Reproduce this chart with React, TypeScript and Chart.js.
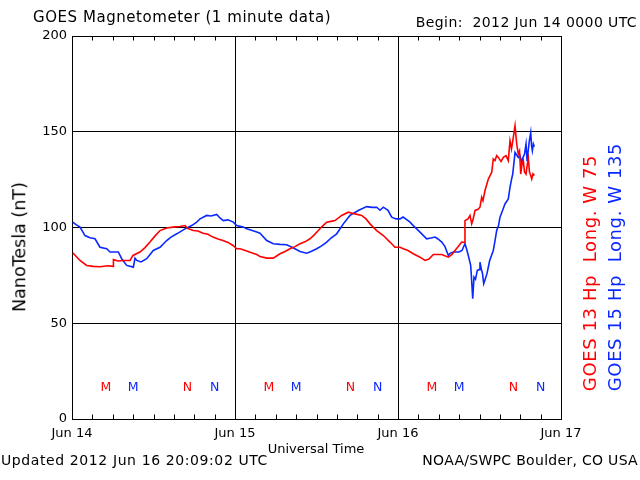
import React, { useEffect, useRef } from "react";
import { Chart, registerables } from "chart.js";

Chart.register(...registerables);

// ---- Data (hours since 2012 Jun 14 00:00 UTC, nT) ----
const dayLabels = ["Jun 14", "Jun 15", "Jun 16", "Jun 17"];
const dayTickHours = [0, 24, 48, 72];
const minorTickHours = [3, 6, 9, 12, 15, 18, 21, 27, 30, 33, 36, 39, 42, 45, 51, 54, 57, 60, 63, 66, 69];
const yTickValues = [0, 50, 100, 150, 200];

const redHours = [
  0.1, 1.18, 2.16, 3.09, 4.12, 5.3, 6.05, 6.1, 6.77, 7.5, 8.54, 8.98, 10.0, 10.75, 11.48, 12.2, 12.96, 13.94,
  14.87, 15.9, 16.64, 17.08, 17.86, 18.55, 19.29, 20.02, 20.76, 21.5, 22.23, 22.97, 23.7, 24.25, 24.74, 25.72,
  26.65, 27.2, 27.68, 28.67, 29.64, 30.63, 31.36, 32.1, 32.83, 33.57, 34.3, 35.04, 35.63, 36.27, 36.81, 37.5,
  38.14, 38.72, 39.71, 40.68, 41.67, 42.65, 43.29, 43.88, 44.86, 45.84, 46.82, 47.56, 48.3, 48.78, 49.47,
  50.25, 51.24, 51.98, 52.56, 53.2, 54.44, 55.41, 55.95, 56.39, 56.84, 57.38, 57.79, 57.86, 58.31, 58.6,
  58.85, 59.04, 59.34, 59.78, 60.07, 60.32, 60.51, 60.81, 61.3, 61.8, 62.03, 62.28, 62.53, 62.77, 63.17,
  63.51, 63.9, 64.24, 64.49, 64.71, 64.98, 65.23, 65.48, 65.71, 65.89, 66.07, 66.26, 66.45, 66.63, 66.85,
  67.0, 67.19, 67.36, 67.51, 67.69, 67.88, 68.07,
];
const redValues = [
  86.8, 82.8, 80.2, 79.7, 79.5, 80.0, 79.7, 83.2, 82.5, 82.8, 82.8, 85.4, 87.2, 89.5, 92.4, 95.5, 98.4, 99.7,
  100.2, 100.5, 101.0, 99.5, 98.4, 98.2, 97.0, 96.5, 95.0, 94.0, 93.2, 92.2, 90.6, 88.9, 88.9, 87.7,
  86.6, 85.9, 84.9, 84.0, 84.0, 86.3, 87.5, 88.9, 90.0, 91.5, 92.5, 94.1, 96.0, 98.4, 100.5, 102.8,
  103.2, 103.6, 106.3, 108.0, 107.1, 106.3, 104.5, 101.9, 98.4, 95.8, 92.4, 89.7, 89.7, 88.9, 88.0,
  86.3, 84.5, 82.8, 83.5, 85.9, 85.9, 84.5, 86.0, 88.0, 90.0, 92.4, 92.2, 103.6, 104.5, 106.3,
  101.9, 104.0, 108.9, 109.5, 110.6, 115.8, 114.0, 119.3, 125.3, 128.8, 135.8, 135.0, 137.6, 136.6, 134.5,
  136.6, 137.5, 134.9, 145.3, 141.0, 147.0, 153.1, 143.6, 138.4, 140.0, 127.9, 133.0, 134.9, 129.0, 127.9,
  132.0, 135.8, 129.0, 127.5, 125.3, 128.0, 127.1,
];

const blueHours = [
  0.1, 0.59, 1.18, 1.91, 2.65, 3.39, 4.12, 5.11, 5.6, 6.82, 7.32, 8.05, 9.03, 9.28, 9.53, 10.16, 11.0, 11.97,
  12.96, 13.94, 14.58, 15.42, 16.64, 17.62, 18.26, 18.85, 19.83, 20.47, 21.31, 21.79, 22.28, 22.97, 23.75,
  24.25, 25.22, 25.72, 26.21, 27.2, 27.68, 28.67, 29.64, 30.63, 31.61, 32.83, 33.57, 34.56, 35.19, 36.03,
  36.81, 37.5, 38.14, 38.97, 39.95, 40.93, 42.15, 43.39, 44.17, 44.86, 45.35, 45.84, 46.53, 47.07, 47.71,
  48.3, 48.74, 49.03, 49.77, 50.25, 50.75, 51.24, 52.22, 52.86, 53.45, 53.89, 54.44, 54.92, 55.41, 55.66,
  56.14, 56.98, 57.42, 57.86, 58.08, 58.35, 58.7, 58.85, 59.0, 59.19, 59.41, 59.68, 59.93, 60.07, 60.29,
  60.44, 60.62, 60.84, 61.1, 61.28, 61.5, 62.03, 62.28, 62.53, 62.8, 63.02, 63.46, 63.75, 64.24, 64.49,
  64.71, 64.89, 65.08, 65.23, 65.45, 65.71, 65.96, 66.21, 66.4, 66.63, 66.85, 67.0, 67.14, 67.34, 67.54,
  67.66, 67.78, 67.93, 68.07,
];
const blueValues = [
  102.8, 101.5, 100.2, 95.8, 94.6, 94.1, 89.7, 88.9, 87.2, 87.2, 83.7, 80.2, 79.3, 84.0, 82.8, 82.0, 83.7, 88.0,
  89.7, 93.2, 95.0, 96.7, 99.3, 101.0, 102.5, 104.5, 106.3, 106.0, 106.8, 105.0, 103.6, 104.0, 102.8,
  101.0, 100.2, 99.3, 98.8, 97.6, 97.0, 93.2, 91.5, 91.2, 91.0, 88.9, 87.5, 86.6, 87.5, 88.9,
  90.5, 92.4, 94.5, 96.7, 101.9, 106.3, 108.9, 110.9, 110.5, 110.6, 109.0, 110.6, 109.0, 105.4, 104.5,
  104.5, 105.5, 104.8, 102.8, 101.0, 99.3, 97.6, 94.1, 94.5, 95.0, 94.0, 92.4, 90.0, 85.4, 86.5,
  87.2, 87.2, 88.0, 91.5, 89.0, 85.4, 80.2, 72.0, 62.8, 74.1, 73.0, 77.6, 78.0, 81.9, 78.0,
  76.0, 70.7, 73.0, 75.9, 79.0, 82.8, 88.0, 93.0, 98.4, 101.0, 105.4, 109.5, 112.3, 114.9, 121.0,
  125.0, 127.9, 134.0, 139.2, 138.0, 136.6, 137.5, 134.0, 136.5, 138.4, 143.6, 135.0, 139.2, 145.3, 149.6,
  143.0, 140.1, 143.6, 142.2,
];

// Local midnight (M) / noon (N) markers
const markValue = 17;
const redMarkHours = [5, 17, 29, 41, 53, 65];
const redMarkLetters = ["M", "N", "M", "N", "M", "N"];
const blueMarkHours = [9, 21, 33, 45, 57, 69];
const blueMarkLetters = ["M", "N", "M", "N", "M", "N"];

const RED = "#ff0000";
const BLUE = "#0a28ff";
const FONT = '"DejaVu Sans", sans-serif';

const overlayPlugin = {
  id: "goesOverlay",
  afterDatasetsDraw(chart: any) {
    const { ctx, chartArea } = chart;
    const xs = chart.scales.x;
    const ys = chart.scales.y;
    ctx.save();
    ctx.strokeStyle = "#000";
    ctx.lineWidth = 1;
    ctx.beginPath();
    for (const h of minorTickHours) {
      const px = Math.round(xs.getPixelForValue(h)) + 0.5;
      ctx.moveTo(px, chartArea.top);
      ctx.lineTo(px, chartArea.top + 4.5);
      ctx.moveTo(px, chartArea.bottom);
      ctx.lineTo(px, chartArea.bottom - 4.5);
    }
    ctx.stroke();
    const size = 12.5;
    ctx.font = `${size}px ${FONT}`;
    ctx.textAlign = "center";
    ctx.textBaseline = "alphabetic";
    const drawMarks = (hours: number[], letters: string[], color: string) => {
      ctx.fillStyle = color;
      hours.forEach((h, i) => {
        const px = xs.getPixelForValue(h);
        const py = ys.getPixelForValue(markValue);
        ctx.fillText(letters[i], px, py + 0.365 * size);
      });
    };
    drawMarks(redMarkHours, redMarkLetters, RED);
    drawMarks(blueMarkHours, blueMarkLetters, BLUE);
    ctx.restore();
  },
};

type TextProps = {
  text: string;
  x: number;
  baseline: number;
  size: number;
  align?: "left" | "right" | "center";
  color?: string;
  ls?: number;
};

function Label({ text, x, baseline, size, align = "left", color = "#000", ls = 0 }: TextProps) {
  const top = baseline - 0.846 * size;
  const style: React.CSSProperties = {
    position: "absolute",
    top,
    fontFamily: FONT,
    fontSize: size,
    lineHeight: `${size}px`,
    whiteSpace: "pre",
    color,
    letterSpacing: ls,
  };
  if (align === "left") style.left = x;
  else if (align === "right") style.right = 640 - x;
  else {
    style.left = x;
    style.transform = "translateX(-50%)";
  }
  return <div style={style}>{text}</div>;
}

function VLabel({ text, cx, cy, size, color = "#000", ls = 0 }: { text: string; cx: number; cy: number; size: number; color?: string; ls?: number }) {
  return (
    <div
      style={{
        position: "absolute",
        left: cx,
        top: cy,
        transform: "translate(-50%, -50%) rotate(-90deg)",
        fontFamily: FONT,
        fontSize: size,
        lineHeight: `${size}px`,
        whiteSpace: "pre",
        color,
        letterSpacing: ls,
      }}
    >
      {text}
    </div>
  );
}

export default function App() {
  const canvasRef = useRef<HTMLCanvasElement | null>(null);

  useEffect(() => {
    if (!canvasRef.current) return;
    const chart = new Chart(canvasRef.current, {
      type: "line",
      data: {
        datasets: [
          {
            label: "GOES 13 Hp",
            data: redHours.map((h, i) => ({ x: h, y: redValues[i] })),
            borderColor: RED,
            borderWidth: 1.6,
            pointRadius: 0,
            tension: 0,
            fill: false,
          },
          {
            label: "GOES 15 Hp",
            data: blueHours.map((h, i) => ({ x: h, y: blueValues[i] })),
            borderColor: BLUE,
            borderWidth: 1.6,
            pointRadius: 0,
            tension: 0,
            fill: false,
          },
        ],
      },
      options: {
        animation: false,
        responsive: false,
        devicePixelRatio: 1,
        events: [],
        layout: { padding: { left: 0, right: 79, top: 36, bottom: 0 } },
        plugins: {
          legend: { display: false },
          tooltip: { enabled: false },
          title: { display: false },
        },
        scales: {
          x: {
            type: "linear",
            min: 0,
            max: 72,
            afterFit: (scale: any) => {
              scale.height = 61;
            },
            afterBuildTicks: (scale: any) => {
              scale.ticks = dayTickHours.map((v) => ({ value: v }));
            },
            ticks: {
              autoSkip: false,
              maxRotation: 0,
              padding: 7,
              color: "#000",
              font: { family: FONT, size: 13 },
              callback: (v: any) => {
                const i = dayTickHours.indexOf(Number(v));
                return i >= 0 ? dayLabels[i] : "";
              },
            },
            grid: { color: "#000", lineWidth: 1, drawTicks: false },
            border: { display: true, color: "#000", width: 1 },
          },
          y: {
            type: "linear",
            min: 0,
            max: 200,
            afterFit: (scale: any) => {
              scale.width = 72;
            },
            afterBuildTicks: (scale: any) => {
              scale.ticks = yTickValues.map((v) => ({ value: v }));
            },
            ticks: {
              padding: 5,
              color: "#000",
              font: { family: FONT, size: 13 },
            },
            grid: { color: "#000", lineWidth: 1, drawTicks: false },
            border: { display: true, color: "#000", width: 1 },
          },
        },
      },
      plugins: [overlayPlugin],
    } as any);
    return () => chart.destroy();
  }, []);

  return (
    <div style={{ position: "absolute", left: 0, top: 0, width: 640, height: 480, background: "#fff", overflow: "hidden" }}>
      <canvas ref={canvasRef} width={640} height={480} style={{ position: "absolute", left: 0, top: 0, width: 640, height: 480 }} />
      <Label text="GOES Magnetometer (1 minute data)" x={33} baseline={23} size={15} ls={0.55} />
      <Label text="Begin:  2012 Jun 14 0000 UTC" x={637} baseline={27} size={14} ls={0.4} align="right" />
      <Label text="Universal Time" x={316} baseline={453} size={13} align="center" />
      <Label text="Updated 2012 Jun 16 20:09:02 UTC" x={1} baseline={465} size={14} ls={0.6} />
      <Label text="NOAA/SWPC Boulder, CO USA" x={638} baseline={465} size={14} ls={0.3} align="right" />
      <VLabel text="NanoTesla (nT)" cx={20} cy={247} size={17.5} />
      <VLabel text="GOES 13 Hp  Long. W 75" cx={590} cy={273} size={18} ls={0.6} color={RED} />
      <VLabel text="GOES 15 Hp  Long. W 135" cx={615} cy={267} size={18} ls={0.6} color={BLUE} />
    </div>
  );
}
